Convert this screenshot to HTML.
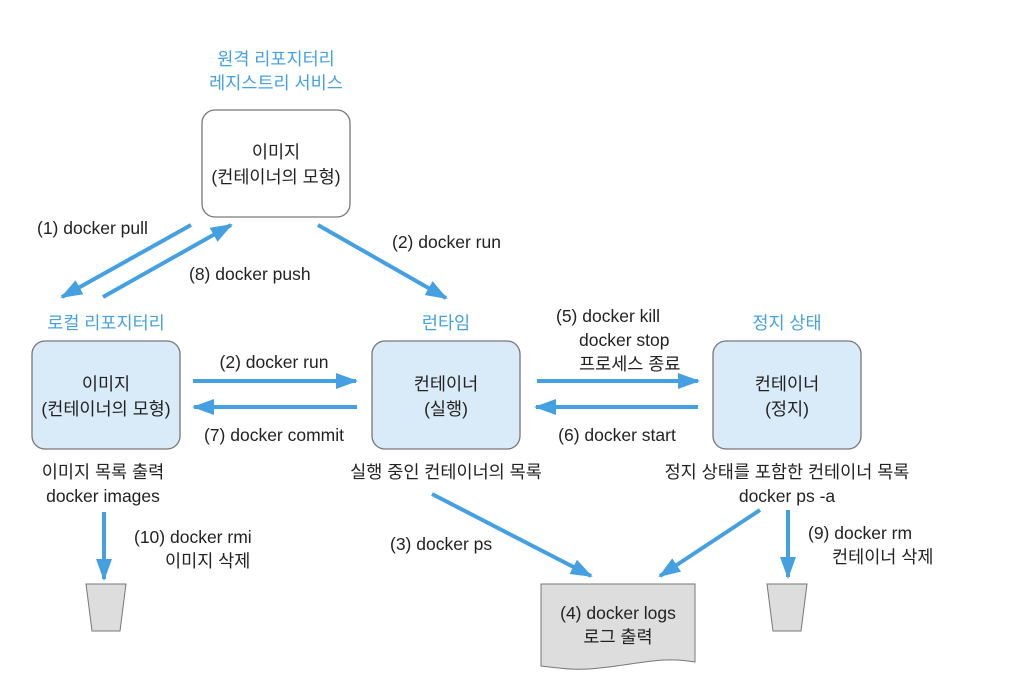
<!DOCTYPE html>
<html><head><meta charset="utf-8"><style>
body{margin:0;background:#fff}
svg text{font-family:"Liberation Sans","Noto Sans CJK KR",sans-serif;font-size:17.5px;fill:#222}
.b{fill:#45a0e2}
</style></head><body>
<svg width="1028" height="688" viewBox="0 0 1028 688">
<defs>
<marker id="m" markerWidth="22" markerHeight="16" refX="20" refY="8" orient="auto" markerUnits="userSpaceOnUse"><path d="M0,0L22,8L0,16z" fill="#45a0e2"/></marker></defs>
<g stroke="#45a0e2" stroke-width="4" fill="none" marker-end="url(#m)">
<line x1="191" y1="225" x2="62" y2="297"/>
<line x1="103" y1="297" x2="231" y2="225"/>
<line x1="318" y1="225" x2="446" y2="298"/>
<line x1="193" y1="381" x2="356" y2="381"/>
<line x1="357" y1="407" x2="194" y2="407"/>
<line x1="537" y1="381" x2="698" y2="381"/>
<line x1="698" y1="407" x2="536" y2="407"/>
<line x1="104" y1="512" x2="104" y2="579"/>
<line x1="432" y1="494" x2="591" y2="576"/>
<line x1="760" y1="510" x2="660" y2="576"/>
<line x1="788" y1="510" x2="788" y2="577"/>
</g>
<rect x="202" y="110" width="148" height="107" rx="13" fill="#fff" stroke="#777" stroke-width="1.3"/>
<rect x="32" y="341" width="148" height="108" rx="13" fill="#d9eaf8" stroke="#777" stroke-width="1.3"/>
<rect x="372" y="341" width="148" height="108" rx="13" fill="#d9eaf8" stroke="#777" stroke-width="1.3"/>
<rect x="713" y="341" width="148" height="108" rx="13" fill="#d9eaf8" stroke="#777" stroke-width="1.3"/>
<path d="M86,584H126L120,631H92Z" fill="#ddd" stroke="#777"/>
<path d="M767,584H807L801,631H773Z" fill="#ddd" stroke="#777"/>
<path d="M541,584H695V662C660,656 640,664 600,668C575,671 560,668 541,666Z" fill="#ddd" stroke="#777"/>
<g text-anchor="middle">
<text class="b" x="276" y="65" font-size="21">원격 리포지터리</text>
<text class="b" x="276" y="89" font-size="21">레지스트리 서비스</text>
<text x="276" y="158">이미지</text><text x="276" y="183">(컨테이너의 모형)</text>
<text class="b" x="106" y="329" font-size="21">로컬 리포지터리</text>
<text class="b" x="446" y="329" font-size="21">런타임</text>
<text class="b" x="787" y="329" font-size="21">정지 상태</text>
<text x="106" y="390">이미지</text><text x="106" y="415">(컨테이너의 모형)</text>
<text x="446" y="390">컨테이너</text><text x="446" y="415">(실행)</text>
<text x="787" y="390">컨테이너</text><text x="787" y="415">(정지)</text>
<text x="274" y="368">(2) docker run</text>
<text x="274" y="441">(7) docker commit</text>
<text x="617" y="441">(6) docker start</text>
<text x="103" y="478">이미지 목록 출력</text><text x="103" y="502">docker images</text>
<text x="446" y="478">실행 중인 컨테이너의 목록</text>
<text x="787" y="478">정지 상태를 포함한 컨테이너 목록</text><text x="787" y="502">docker ps -a</text>
<text x="618" y="619">(4) docker logs</text><text x="618" y="643">로그 출력</text>
</g>
<text x="37" y="234">(1) docker pull</text>
<text x="189" y="280">(8) docker push</text>
<text x="392" y="248">(2) docker run</text>
<text x="556" y="322">(5) docker kill</text>
<text x="579" y="346">docker stop</text>
<text x="579" y="370">프로세스 종료</text>
<text x="134" y="543">(10) docker rmi</text>
<text x="165" y="567">이미지 삭제</text>
<text x="390" y="550">(3) docker ps</text>
<text x="808" y="539">(9) docker rm</text>
<text x="832" y="563">컨테이너 삭제</text>
</svg>
</body></html>
